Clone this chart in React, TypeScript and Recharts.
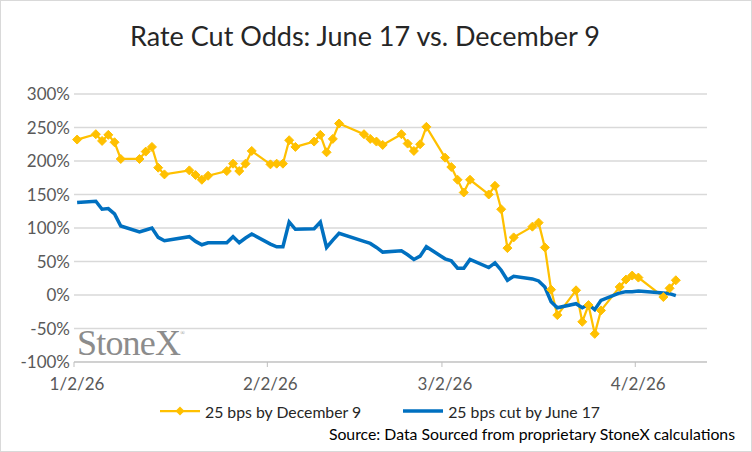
import React from "react";
import { LineChart, Line, XAxis, YAxis, CartesianGrid } from "recharts";

const dates = [
  "1/2/26", "1/5/26", "1/6/26", "1/7/26", "1/8/26", "1/9/26",
  "1/12/26", "1/13/26", "1/14/26", "1/15/26", "1/16/26",
  "1/20/26", "1/21/26", "1/22/26", "1/23/26",
  "1/26/26", "1/27/26", "1/28/26", "1/29/26", "1/30/26",
  "2/2/26", "2/3/26", "2/4/26", "2/5/26", "2/6/26",
  "2/9/26", "2/10/26", "2/11/26", "2/12/26", "2/13/26",
  "2/17/26", "2/18/26", "2/19/26", "2/20/26",
  "2/23/26", "2/24/26", "2/25/26", "2/26/26", "2/27/26",
  "3/2/26", "3/3/26", "3/4/26", "3/5/26", "3/6/26",
  "3/9/26", "3/10/26", "3/11/26", "3/12/26", "3/13/26",
  "3/16/26", "3/17/26", "3/18/26", "3/19/26", "3/20/26",
  "3/23/26", "3/24/26", "3/25/26", "3/26/26", "3/27/26",
  "3/30/26", "3/31/26", "4/1/26", "4/2/26",
  "4/6/26", "4/7/26", "4/8/26",
];

// 25 bps by December 9 (%)
const dec9 = [
  232, 240, 230, 239, 228, 203,
  203, 214, 221, 190, 180,
  186, 179, 172, 178,
  185, 196, 185, 196, 215,
  195, 196, 196, 231, 221,
  229, 239, 213, 233, 256,
  240, 233, 229, 224,
  240, 226, 215, 225, 251,
  205, 191, 172, 153, 172,
  150, 163, 128, 70, 86,
  102, 108, 71, 8, -30,
  7, -40, -15, -58, -23,
  12, 23, 29, 26,
  -3, 10, 22,
];

// 25 bps cut by June 17 (%)
const jun17 = [
  138, 140, 128, 129, 121, 103,
  94, 97, 100, 86, 81,
  87, 80, 75, 78,
  78, 87, 78, 85, 91,
  76, 72, 72, 109, 98,
  99, 109, 71, 82, 92,
  80, 77, 71, 64,
  66, 60, 53, 58, 72,
  54, 51, 40, 40, 53,
  41, 48, 37, 22, 28,
  24, 21, 12, -10, -19,
  -13, -19, -14, -22, -8,
  3, 5, 5, 6,
  3, 2, -1,
];

const tickDates = ["1/2/26", "2/2/26", "3/2/26", "4/2/26"];
const yTicks = [-100, -50, 0, 50, 100, 150, 200, 250, 300];

const DAY = 86400000;
const toTime = (s: string) => {
  const [m, d, y] = s.split("/").map(Number);
  return Date.UTC(2000 + y, m - 1, d);
};
const fmtDate = (t: number) => {
  const d = new Date(t);
  return `${d.getUTCMonth() + 1}/${d.getUTCDate()}/${String(d.getUTCFullYear()).slice(2)}`;
};

const data = dates.map((d, i) => ({ t: toTime(d), dec9: dec9[i], jun17: jun17[i] }));
const start = toTime("1/2/26");
// Excel date axis: ticks at day boundaries, points centred in their day
const xTicks = tickDates.map((d) => toTime(d) - DAY / 2);

const YELLOW = "#FFC000";
const BLUE = "#0070C0";
const FONT = "Lato, 'Noto Sans', sans-serif";

const Diamond = (props: any) => {
  const { cx, cy, index } = props;
  if (cx == null || cy == null) return <g key={index} />;
  const r = 4.5;
  return (
    <polygon
      key={index}
      points={`${cx},${cy - r} ${cx + r},${cy} ${cx},${cy + r} ${cx - r},${cy}`}
      fill={YELLOW}
      stroke={YELLOW}
    />
  );
};

export default function App() {
  return (
    <div
      style={{
        position: "absolute",
        left: 0,
        top: 0,
        width: 752,
        height: 452,
        background: "#fff",
        fontFamily: FONT,
        overflow: "hidden",
      }}
    >
      <div
        style={{
          position: "absolute",
          left: 0,
          top: 19,
          width: 730,
          textAlign: "center",
          fontSize: 27,
          color: "#262626",
        }}
      >
        Rate Cut Odds: June 17 vs. December 9
      </div>

      <div
        style={{
          position: "absolute",
          left: 77,
          top: 322,
          fontFamily: "'Liberation Serif', serif",
          fontSize: 36,
          color: "#8c8c8c",
          letterSpacing: -0.8,
        }}
      >
        StoneX<span style={{ fontSize: 6, verticalAlign: "top", position: "relative", top: 8 }}>®</span>
      </div>

      <div style={{ position: "absolute", left: 0, top: 0 }}>
        <LineChart
          width={752}
          height={452}
          data={data}
          margin={{ top: 94, right: 45, bottom: 60, left: 0 }}
        >
          <CartesianGrid horizontal vertical={false} stroke="#d9d9d9" strokeWidth={1.3} />
          <XAxis
            dataKey="t"
            type="number"
            scale="time"
            domain={[start - DAY / 2, start + 101 * DAY]}
            ticks={xTicks}
            tickFormatter={(v: number) => fmtDate(v + DAY / 2)}
            height={30}
            stroke="#bfbfbf"
            tickSize={5}
            tickMargin={11}
            tick={{ fill: "#595959", fontSize: 17, fontFamily: FONT, dx: 3 }}
            interval={0}
          />
          <YAxis
            domain={[-100, 300]}
            ticks={yTicks}
            width={74}
            axisLine={false}
            tickLine={false}
            tickSize={2}
            tickMargin={2}
            tickFormatter={(v: number) => `${v}%`}
            tick={{ fill: "#595959", fontSize: 17, fontFamily: FONT }}
            interval={0}
          />
          <Line
            dataKey="dec9"
            stroke={YELLOW}
            strokeWidth={2.25}
            dot={Diamond}
            activeDot={false}
            isAnimationActive={false}
          />
          <Line
            dataKey="jun17"
            stroke={BLUE}
            strokeWidth={3.5}
            dot={false}
            activeDot={false}
            isAnimationActive={false}
          />
        </LineChart>
      </div>

      <div
        style={{
          position: "absolute",
          left: 160,
          top: 401,
          display: "flex",
          alignItems: "center",
          fontSize: 15.8,
          color: "#262626",
        }}
      >
        <svg width={42} height={20}>
          <line x1={0} y1={10} x2={40} y2={10} stroke={YELLOW} strokeWidth={2.25} />
          <polygon points="20,5.5 24.5,10 20,14.5 15.5,10" fill={YELLOW} />
        </svg>
        <span style={{ marginLeft: 3 }}>25 bps by December 9</span>
        <svg width={42} height={20} style={{ marginLeft: 42 }}>
          <line x1={0} y1={10} x2={40} y2={10} stroke={BLUE} strokeWidth={3.5} />
        </svg>
        <span style={{ marginLeft: 3 }}>25 bps cut by June 17</span>
      </div>

      <div
        style={{
          position: "absolute",
          right: 17,
          top: 424,
          fontSize: 15.8,
          color: "#000",
        }}
      >
        Source: Data Sourced from proprietary StoneX calculations
      </div>

      <div
        style={{
          position: "absolute",
          left: 0,
          top: 0,
          width: 752,
          height: 452,
          boxSizing: "border-box",
          border: "1px solid #d9d9d9",
          pointerEvents: "none",
        }}
      />
    </div>
  );
}
